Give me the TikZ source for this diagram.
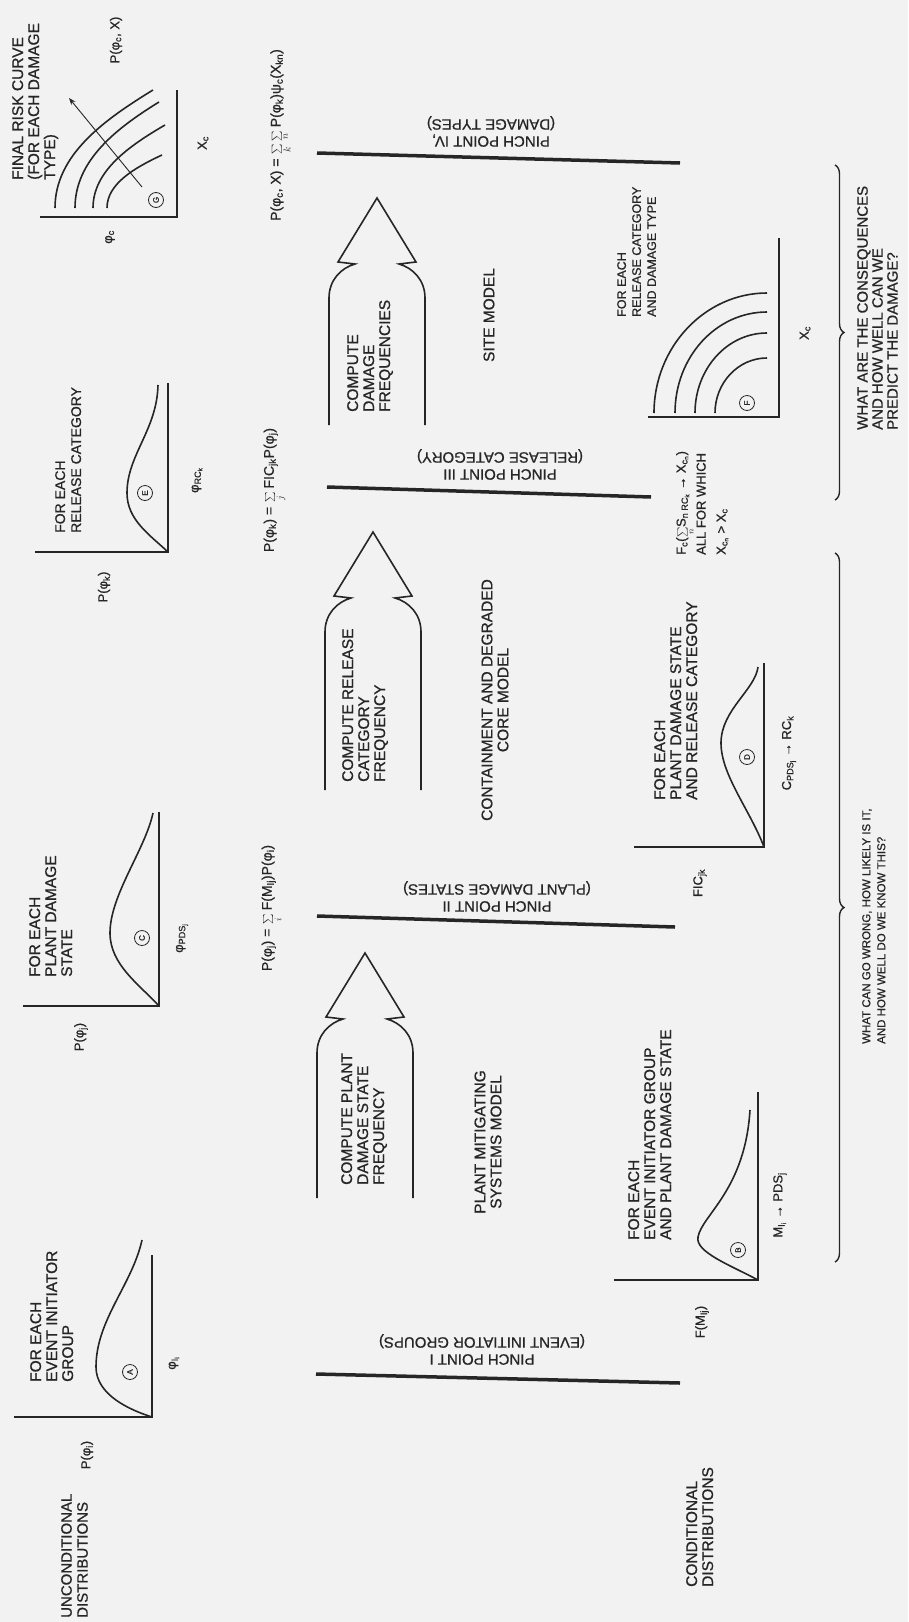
\documentclass[tikz,border=0pt]{standalone}
\usepackage{fontspec}
\setmainfont{Liberation Sans}[FakeBold=0.8]
\usetikzlibrary{arrows.meta,decorations.pathreplacing}

\tikzset{
  axis/.style={line width=2.4pt},
  curve/.style={line width=1.6pt},
  pinch/.style={line width=3.5pt},
  flow/.style={line width=1.6pt},
  bracket/.style={decorate, decoration={brace, amplitude=9pt}, line width=1.4pt},
  note/.style={rotate=90, inner sep=0pt, align=left, anchor=north west, font=\fontsize{15.5}{16}\selectfont},
  midnote/.style={rotate=90, inner sep=0pt, align=center, font=\fontsize{15.5}{16}\selectfont},
  axlbl/.style={rotate=90, inner sep=0pt, font=\fontsize{13}{16}\selectfont},
  eqlbl/.style={rotate=90, inner sep=0pt, font=\fontsize{14}{17}\selectfont},
  pinchlbl/.style={rotate=180, inner sep=0pt, align=center, anchor=north, font=\fontsize{15}{17}\selectfont},
  tag/.style={draw, circle, line width=0.8pt, minimum size=15pt, inner sep=0pt, rotate=90, font=\fontsize{8}{8}\selectfont},
}

\newcommand{\sub}[1]{\textsubscript{#1}}

% bottle shaped arrow: centre x, tip y, open end y
\newcommand{\bottlearrow}[3]{%
  \draw[flow] (#1-48,#3) -- (#1-48,#2+100)
    .. controls (#1-48,#2+82) and (#1-36,#2+70) .. (#1-22,#2+66)
    -- (#1-39,#2+64) -- (#1,#2) -- (#1+39,#2+64) -- (#1+22,#2+66)
    .. controls (#1+36,#2+70) and (#1+48,#2+82) .. (#1+48,#2+100)
    -- (#1+48,#3);}

\begin{document}
\begin{tikzpicture}[x=1pt,y=-1pt,color=black!85]
\useasboundingbox (0,0) rectangle (908,1622);
\fill[black!5] (0,0) rectangle (908,1622);

% unconditional distributions, left column
\draw[axis] (14,1417) -- (152,1417) -- (152,1255);
\draw[curve] (152,1417) .. controls (130,1410) and (96,1395) .. (96,1367)
  .. controls (96,1320) and (132,1285) .. (142,1240);
\node[tag] (cA) at (130,1372) {A};
\node[note] (grpA) at (30,1382) {FOR EACH\\EVENT INITIATOR\\GROUP};
\node[axlbl] (pA) at (87,1455) {P(φ\sub{i})};
\node[axlbl] (xA) at (174,1363) {φ\sub{I\sub{i}}};
\node[note, font=\fontsize{15}{16}\selectfont] (uncond) at (61,1618) {UNCONDITIONAL\\DISTRIBUTIONS};

\draw[axis] (23,1006) -- (159,1006) -- (159,812);
\draw[curve] (159,1006) .. controls (140,985) and (110,965) .. (110,933)
  .. controls (110,895) and (145,850) .. (153,813);
\node[tag] (cC) at (142,938) {C};
\node[note] (grpC) at (29,977) {FOR EACH\\PLANT DAMAGE\\STATE};
\node[axlbl] (pC) at (81,1037) {P(φ\sub{j})};
\node[axlbl] (xC) at (182,938) {φ\sub{PDS\sub{j}}};

\draw[axis] (35,552) -- (168,552) -- (168,383);
\draw[curve] (168,552) .. controls (150,535) and (127,520) .. (127,493)
  .. controls (127,455) and (157,430) .. (158,385);
\node[tag] (cE) at (145,493) {E};
\node[note, font=\fontsize{14}{16}\selectfont] (grpE) at (55,533) {FOR EACH\\RELEASE CATEGORY};
\node[axlbl] (pE) at (104,587) {P(φ\sub{k})};
\node[axlbl] (xE) at (197,480) {φ\sub{RC\sub{k}}};

\draw[axis] (40,217) -- (177,217) -- (177,90);
\draw[curve] (55,208) .. controls (55,155) and (104,120) .. (153,90);
\draw[curve] (75,208) .. controls (75,160) and (117,128) .. (159,102);
\draw[curve] (93,208) .. controls (93,171) and (129,146) .. (165,125);
\draw[curve] (107,208) .. controls (107,184) and (134,168) .. (162,155);
\draw[line width=0.9pt,-{Stealth[length=7pt]}] (142,187) -- (69,98);
\node[tag] (cG) at (156,200) {G};
\node[note] (grpG) at (12,180) {FINAL RISK CURVE\\(FOR EACH DAMAGE\\TYPE)};
\node[axlbl] (pG) at (116,40) {P(φ\sub{c}, X)};
\node[axlbl] (yG) at (110,237) {φ\sub{c}};
\node[axlbl] (xG) at (203,143) {X\sub{c}};

% balance equations
\node[eqlbl] (eq2) at (272,908) {P(φ\sub{j}) = $\sum\limits_i$ F(M\sub{Ij})P(φ\sub{i})};
\node[eqlbl] (eq3) at (275,490) {P(φ\sub{k}) = $\sum\limits_j$ FIC\sub{jk}P(φ\sub{j})};
\node[eqlbl] (eq4) at (281,135) {P(φ\sub{c}, X) = $\sum\limits_k\sum\limits_n$ P(φ\sub{k})ψ\sub{c}(X\sub{kn})};

% pinch points
\draw[pinch] (316,1374) -- (680,1383);
\node[pinchlbl] (pp1) at (482,1365) {PINCH POINT I\\(EVENT INITIATOR GROUPS)};
\draw[pinch] (317,916) -- (675,927);
\node[pinchlbl] (pp2) at (497,912) {PINCH POINT II\\(PLANT DAMAGE STATES)};
\draw[pinch] (327,487) -- (651,497);
\node[pinchlbl] (pp3) at (500,480) {PINCH POINT III\\(RELEASE CATEGORY)};
\draw[pinch] (317,153) -- (680,163);
\node[pinchlbl] (pp4) at (491,147) {PINCH POINT IV,\\(DAMAGE TYPES)};

% model arrows
\bottlearrow{365}{953}{1198}
\node[note] (cmp1) at (341,1185) {COMPUTE PLANT\\DAMAGE STATE\\FREQUENCY};
\node[midnote] (mod1) at (488,1142) {PLANT MITIGATING\\SYSTEMS MODEL};
\bottlearrow{373}{532}{790}
\node[note] (cmp2) at (342,782) {COMPUTE RELEASE\\CATEGORY\\FREQUENCY};
\node[midnote] (mod2) at (495,700) {CONTAINMENT AND DEGRADED\\CORE MODEL};
\bottlearrow{377}{198}{425}
\node[note] (cmp3) at (347,412) {COMPUTE\\DAMAGE\\FREQUENCIES};
\node[midnote] (mod3) at (489,315) {SITE MODEL};

% conditional distributions, right column
\draw[axis] (614,1280) -- (758,1280) -- (758,1092);
\draw[curve] (758,1280) .. controls (730,1265) and (695,1252) .. (698,1237)
  .. controls (702,1215) and (745,1190) .. (750,1110);
\node[tag] (cB) at (738,1250) {B};
\node[note] (grpB) at (628,1240) {FOR EACH\\EVENT INITIATOR GROUP\\AND PLANT DAMAGE STATE};
\node[axlbl] (pB) at (702,1322) {F(M\sub{Ij})};
\node[axlbl] (xB) at (780,1205) {M\sub{I\sub{i}} → PDS\sub{j}};
\node[note] (cond) at (686,1587) {CONDITIONAL\\DISTRIBUTIONS};

\draw[axis] (634,847) -- (764,847) -- (764,663);
\draw[curve] (764,847) .. controls (750,810) and (721,775) .. (721,743)
  .. controls (721,710) and (755,690) .. (758,667);
\node[tag] (cD) at (747,757) {D};
\node[note] (grpD) at (654,800) {FOR EACH\\PLANT DAMAGE STATE\\AND RELEASE CATEGORY};
\node[axlbl] (pD) at (700,883) {FIC\sub{jk}};
\node[axlbl] (xD) at (789,753) {C\sub{PDS\sub{j}} → RC\sub{k}};

\draw[axis] (648,417) -- (779,417) -- (779,238);
\draw[curve] (654,413) .. controls (654,347) and (705,293) .. (767,293);
\draw[curve] (675,413) .. controls (675,357) and (716,312) .. (767,312);
\draw[curve] (695,413) .. controls (695,369) and (727,333) .. (767,333);
\draw[curve] (715,413) .. controls (715,383) and (738,358) .. (767,358);
\node[tag] (cF) at (747,403) {F};
\node[note, font=\fontsize{12.5}{15}\selectfont] (grpF) at (617,317) {FOR EACH\\RELEASE CATEGORY\\AND DAMAGE TYPE};
\node[note, font=\fontsize{13}{20}\selectfont] (pF) at (676,555)
  {F\sub{c}($\sum\limits_n$S\sub{n RC\sub{k}} → X\sub{c\sub{n}})\\ALL FOR WHICH\\X\sub{c\sub{n}} > X\sub{c}};
\node[axlbl] (xF) at (805,333) {X\sub{c}};

% questions
\draw[bracket] (835,553) -- (835,1262);
\node[note, font=\fontsize{11.5}{15}\selectfont] (ask1) at (862,1044)
  {WHAT CAN GO WRONG, HOW LIKELY IS IT,\\AND HOW WELL DO WE KNOW THIS?};
\draw[bracket] (835,165) -- (835,500);
\node[note, font=\fontsize{15}{15}\selectfont] (ask2) at (857,430)
  {WHAT ARE THE CONSEQUENCES\\AND HOW WELL CAN WE\\PREDICT THE DAMAGE?};

\end{tikzpicture}
\end{document}
